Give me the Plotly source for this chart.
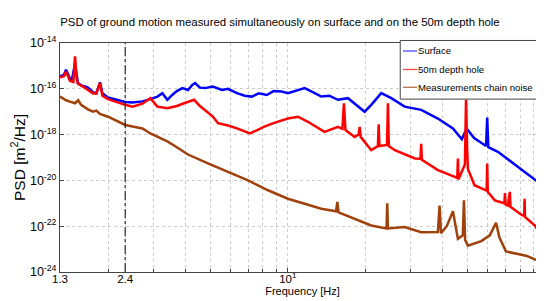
import plotly.graph_objects as go

# ---- data (frequency in Hz, PSD as log10 of m^2/Hz) ----
surface_freq = [1.30, 1.347, 1.372, 1.421, 1.447, 1.487, 1.527, 1.569, 1.626, 1.670, 1.747, 1.80,
                1.859, 1.90, 1.998, 2.185, 2.33, 2.49, 2.72, 2.92, 3.11, 3.25, 3.40, 3.55, 3.70,
                3.89, 4.09, 4.25, 4.36, 4.55, 4.77, 5.10, 5.55, 5.85, 6.34, 6.80, 7.24, 7.70, 8.28,
                8.8, 9.46, 10.0, 10.95, 11.62, 12.5, 13.49, 14.5, 15.66, 17.13, 18.5, 19.89, 21.1,
                23.08, 25.24, 28.46, 33.0, 38.33, 43.85, 47.5, 49.5, 50.15, 53.0, 56.0, 59.0, 59.6,
                60.2, 65.6, 69.7, 76.4, 83.3, 88.0, 93.8, 98.0, 100.0]
surface_log = [-15.46, -15.39, -15.17, -15.55, -15.6, -14.9, -15.75, -15.85, -15.9, -15.95, -16.15, -16.2,
               -15.72, -16.2, -16.38, -16.5, -16.58, -16.6, -16.55, -16.45, -16.34, -16.19, -16.48, -16.27, -16.1,
               -15.97, -16.05, -15.83, -15.75, -15.95, -15.97, -15.9, -16.05, -16.0, -16.19, -16.3, -16.34, -16.2, -16.27,
               -16.1, -16.12, -16.19, -16.05, -15.97, -16.15, -16.34, -16.3, -16.48, -16.41, -16.7, -17.0, -16.7,
               -16.19, -16.41, -16.78, -16.92, -17.3, -17.73, -18.2, -17.75, -17.8, -18.15, -18.35, -18.5, -17.26,
               -18.55, -18.75, -18.97, -19.3, -19.63, -19.85, -20.05, -20.2, -20.3]

hole_freq = [1.30, 1.347, 1.372, 1.421, 1.465, 1.487, 1.51, 1.527, 1.569, 1.626, 1.670, 1.747, 1.80,
             1.859, 1.90, 1.998, 2.185, 2.33, 2.49, 2.72, 2.92, 3.11, 3.40, 3.70, 3.95, 4.32, 4.55,
             4.77, 5.10, 5.35, 5.85, 6.34, 7.12, 7.6, 8.06, 8.8, 9.64, 10.0, 10.95, 11.97, 13.88,
             15.66, 16.3, 16.52, 16.75, 18.19, 18.85, 19.02, 19.2, 21.1, 22.4, 22.55, 22.7, 24.3,
             24.5, 24.7, 26.06, 31.2, 32.8, 33.0, 33.2, 38.33, 44.6, 45.6, 45.85, 46.1, 48.8, 49.3,
             49.8, 50.15, 53.2, 59.3, 59.6, 59.9, 63.8, 69.5, 69.9, 70.3, 71.73, 73.0, 73.4, 80.9,
             83.0, 83.3, 83.6, 91.3, 98.1, 99.2, 99.6, 100.0]
hole_log = [-15.5, -15.45, -15.25, -15.65, -15.7, -14.58, -15.6, -15.78, -15.85, -15.95, -16.05, -16.2, -16.2,
            -15.75, -16.3, -16.45, -16.6, -16.7, -16.78, -16.65, -16.41, -16.78, -16.85, -16.75, -16.63, -16.48, -16.75,
            -16.92, -17.2, -17.5, -17.6, -17.73, -17.95, -17.8, -17.66, -17.5, -17.37, -17.3, -17.22, -17.44, -17.88,
            -17.66, -17.75, -16.63, -17.8, -18.1, -18.0, -17.66, -18.1, -18.68, -18.5, -17.55, -18.5, -18.45,
            -16.63, -18.5, -18.68, -19.04, -19.05, -18.4, -19.1, -19.55, -19.85, -19.9, -19.04, -19.95, -19.3, -16.48,
            -18.6, -19.5, -20.21, -20.45, -19.26, -20.5, -20.87, -21.0, -20.55, -21.05, -21.1, -20.5, -21.15, -21.5,
            -21.55, -20.8, -21.6, -21.97, -22.55, -22.5, -18.6, -22.4]

noise_freq = [1.30, 1.372, 1.421, 1.487, 1.53, 1.57, 1.670, 1.747, 1.80, 1.859, 1.998, 2.185, 2.33,
              2.49, 2.72, 2.92, 3.11, 3.40, 3.70, 3.95, 4.09, 4.89, 5.85, 7.0, 8.37, 10.0, 11.62,
              13.49, 15.4, 15.57, 15.75, 18.19, 21.1, 24.2, 24.35, 24.5, 28.46, 33.0, 38.33, 38.9,
              39.4, 41.5, 43.85, 45.85, 47.9, 48.4, 48.9, 50.15, 56.5, 61.0, 64.5, 66.5, 70.5, 80.9,
              85.0, 91.3, 96.4, 98.1, 99.2, 100.0]
noise_log = [-16.34, -16.5, -16.56, -16.63, -16.5, -16.7, -16.9, -17.0, -16.95, -17.1, -17.22, -17.45, -17.58,
             -17.65, -17.73, -17.95, -18.1, -18.3, -18.55, -18.75, -18.87, -19.26, -19.63, -20.0, -20.43, -20.8, -21.02,
             -21.24, -21.35, -20.94, -21.4, -21.68, -21.97, -22.1, -21.0, -22.1, -22.04, -22.26, -22.25, -21.1,
             -22.3, -22.0, -21.35, -22.55, -22.4, -20.87, -22.6, -22.85, -22.65, -22.4, -21.85, -22.5, -23.1, -23.25,
             -23.3, -23.45, -23.55, -23.3, -22.85, -23.1]

series_names = ["Surface", "50m depth hole", "Measurements chain noise"]
series_colors = ["#0000ff", "#ff0000", "#a0400a"]
legend_colors = ["#4a4aff", "#ff4a4a", "#b8704a"]

x_tick_vals = [1.3, 2.33, 10, 100]
x_tick_text = ["1.3", "2.4", "10<sup>1</sup>", "10<sup>2</sup>"]
x_minor_vals = [2, 3, 4, 5, 6, 7, 8, 9, 20, 30, 40, 50, 60, 70, 80, 90]
y_exponents = [-24, -22, -20, -18, -16, -14]
marker_freq = 2.33

FONT = "Liberation Sans, Arial, sans-serif"

fig = go.Figure()
for name, color, fx, fl in zip(series_names, series_colors,
                                [surface_freq, hole_freq, noise_freq],
                                [surface_log, hole_log, noise_log]):
    fig.add_trace(go.Scatter(x=fx, y=[10 ** v for v in fl], mode="lines", name=name,
                             showlegend=False, line=dict(color=color, width=2.5)))

fig.add_trace(go.Scatter(x=[marker_freq, marker_freq],
                         y=[10.0 ** y_exponents[0], 10.0 ** y_exponents[-1]],
                         mode="lines", showlegend=False, hoverinfo="skip",
                         line=dict(color="black", width=1, dash="dashdot")))

# ---- legend box drawn in paper coordinates (MATLAB style, short line samples) ----
box = dict(x0=0.7015, x1=1.0, y0=0.755, y1=1.011)
row_y = [0.9651, 0.8843, 0.8066]
shapes = [dict(type="rect", xref="paper", yref="paper", layer="above",
               fillcolor="white", line=dict(color="#444", width=1), **box)]
annotations = []
for name, color, ry in zip(series_names, legend_colors, row_y):
    shapes.append(dict(type="line", xref="paper", yref="paper", layer="above",
                       x0=0.7072, x1=0.7361, y0=ry, y1=ry, line=dict(color=color, width=1.3)))
    annotations.append(dict(text=name, xref="paper", yref="paper", x=0.7365, y=ry,
                            xanchor="left", yanchor="middle", showarrow=False, borderpad=0,
                            font=dict(family=FONT, size=9.6, color="black")))

fig.update_layout(
    width=544, height=301,
    margin=dict(l=52, r=7, t=35, b=37),
    paper_bgcolor="white", plot_bgcolor="white",
    font=dict(family=FONT, size=11, color="black"),
    showlegend=False,
    shapes=shapes, annotations=annotations,
    title=dict(text="PSD of ground motion measured simultaneously on surface and on the 50m depth hole",
               x=0.50, xref="container", xanchor="center",
               y=0.955, yref="container", yanchor="middle",
               font=dict(family=FONT, size=11.4, color="black")),
    xaxis=dict(type="log", range=[0.11394, 2.0],
               tickvals=x_tick_vals, ticktext=x_tick_text, tickfont=dict(size=11.5),
               ticklabelstandoff=-4,
               showgrid=True, gridcolor="#cccccc", griddash="dot",
               ticks="inside", ticklen=4, tickcolor="#444",
               showline=True, linecolor="#444", mirror=True,
               minor=dict(tickvals=x_minor_vals, showgrid=True, gridcolor="#cccccc",
                          griddash="dot", ticks="inside", ticklen=3, tickcolor="#444"),
               title=dict(text="Frequency [Hz]", font=dict(size=11), standoff=0),
               zeroline=False),
    yaxis=dict(type="log", range=[y_exponents[0], y_exponents[-1]],
               tickvals=[10.0 ** e for e in y_exponents],
               ticktext=["10<sup>%d</sup>" % e for e in y_exponents],
               tickfont=dict(size=12.5),
               showgrid=True, gridcolor="#cccccc", griddash="dot",
               ticks="inside", ticklen=4, tickcolor="#444",
               showline=True, linecolor="#444", mirror=True,
               title=dict(text="PSD [m<sup>2</sup>/Hz]", font=dict(size=15.5), standoff=1),
               zeroline=False),
)

fig.write_html("out.html")
